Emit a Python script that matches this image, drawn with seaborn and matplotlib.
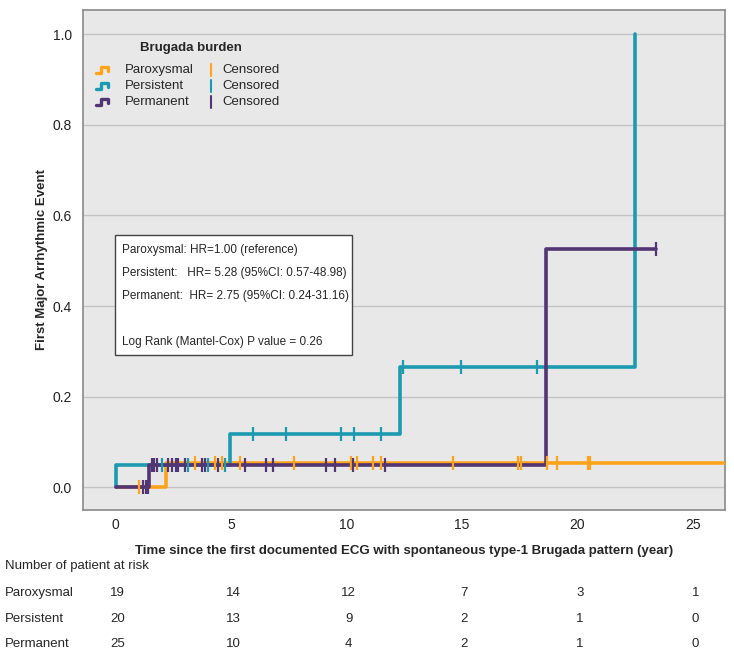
import numpy as np
import pandas as pd
import seaborn as sns
import matplotlib.pyplot as plt
from matplotlib.patches import Rectangle
from matplotlib.lines import Line2D

# step curves (time in years, cumulative event)
parox_t = [0, 2.2, 27.0]
parox_y = [0, 0.054, 0.054]
persis_t = [0, 0, 4.95, 12.3, 22.5]
persis_y = [0, 0.05, 0.118, 0.265, 1.0]
perm_t = [0, 1.46, 18.65, 23.4]
perm_y = [0, 0.05, 0.525, 0.525]

# censored times
parox_cens = [1.03, 3.44, 4.3, 4.6, 5.39, 7.73, 10.19, 10.44, 11.16, 11.49,
              14.62, 17.44, 17.54, 18.7, 19.1, 20.45, 20.55]
persis_cens = [2.03, 3.15, 4.0, 4.74, 5.97, 7.37, 9.75, 10.34, 11.49,
               12.45, 14.95, 18.25]
perm_cens = [1.2, 1.3, 1.4, 1.56, 1.68, 1.81, 2.25, 2.43, 2.6, 2.72, 3.0,
             3.73, 3.87, 4.45, 5.62, 6.5, 6.8, 9.1, 9.5, 10.29, 11.67, 23.4]

groups = ['Paroxysmal', 'Persistent', 'Permanent']
colors = ['#FFA31A', '#1C9AAF', '#523573']

# number at risk table
risk_times = [0, 5, 10, 15, 20, 25]
risk_parox = [19, 14, 12, 7, 3, 1]
risk_persis = [20, 13, 9, 2, 1, 0]
risk_perm = [25, 10, 4, 2, 1, 0]

hr_lines = ['Paroxysmal: HR=1.00 (reference)',
            'Persistent:   HR= 5.28 (95%CI: 0.57-48.98)',
            'Permanent:  HR= 2.75 (95%CI: 0.24-31.16)',
            '',
            'Log Rank (Mantel-Cox) P value = 0.26']

sns.set_style('whitegrid', {'axes.facecolor': '#E8E8E8', 'grid.color': '#C4C4C4',
                            'axes.edgecolor': '#8A8A8A'})
plt.rcParams['font.family'] = ['Liberation Sans', 'DejaVu Sans']

W, H = 734, 659
fig = plt.figure(figsize=(W / 100, H / 100), dpi=100)
ax = fig.add_axes([83 / W, 1 - 510 / H, 642 / W, 500 / H])


def px(x, y):
    return x / W, 1 - y / H


def step_val(ts, ys, t):
    i = np.searchsorted(ts, t, side='right') - 1
    return ys[max(i, 0)]


curves = [(parox_t, parox_y, parox_cens), (persis_t, persis_y, persis_cens),
          (perm_t, perm_y, perm_cens)]
for (ts, ys, cens), g, c in zip(curves, groups, colors):
    d = pd.DataFrame({'t': ts, 'y': ys})
    sns.lineplot(data=d, x='t', y='y', ax=ax, color=c, lw=2.6, sort=False,
                 drawstyle='steps-post', estimator=None, zorder=3)
    cy = [step_val(ts, ys, t) for t in cens]
    ax.plot(cens, cy, ls='none', marker='|', ms=10, mew=1.6, color=c, zorder=4)

ax.set_xlim(-1.41, 26.39)
ax.set_ylim(-0.05, 1.053)
ax.set_xticks(risk_times)
ax.set_yticks([0, 0.2, 0.4, 0.6, 0.8, 1.0])
ax.set_yticklabels(['0.0', '0.2', '0.4', '0.6', '0.8', '1.0'])
ax.grid(axis='x', visible=False)
ax.grid(axis='y', lw=1)
ax.tick_params(length=0, labelsize=10, colors='#222222')
ax.tick_params(axis='y', pad=8)
ax.tick_params(axis='x', pad=6)
ax.set_xlabel('Time since the first documented ECG with spontaneous type-1 Brugada pattern (year)',
              fontsize=9.5, fontweight='bold', labelpad=9)
ax.set_ylabel('First Major Arrhythmic Event', fontsize=9.5, fontweight='bold', labelpad=3)
for s in ax.spines.values():
    s.set_linewidth(1.2)

# legend drawn by hand
fig.text(*px(140, 48), 'Brugada burden', fontsize=9.5, fontweight='bold', va='center')
for i, (g, c) in enumerate(zip(groups, colors)):
    yy = 70 + 16 * i
    sx = np.array([96, 101, 101, 108, 108])
    sy = np.array([yy + 3, yy + 3, yy - 3, yy - 3, yy + 1])
    fig.add_artist(Line2D(sx / W, 1 - sy / H, color=c, lw=2.4))
    fig.text(*px(125, yy), g, fontsize=9.5, va='center')
    fig.add_artist(Line2D([211 / W, 211 / W], [1 - (yy - 6) / H, 1 - (yy + 6) / H], color=c, lw=1.5))
    fig.text(*px(222, yy), 'Censored', fontsize=9.5, va='center')

# hazard ratio box
fig.add_artist(Rectangle(px(115, 355), 237 / W, 120 / H, transform=fig.transFigure,
                         facecolor='white', edgecolor='#444444', lw=1, zorder=5))
for i, line in enumerate(hr_lines):
    fig.text(*px(122, 250 + 23 * i), line, fontsize=8.5, va='center', zorder=6)

# risk table
fig.text(*px(5, 566), 'Number of patient at risk', fontsize=9.5, va='center')
trans = ax.get_xaxis_transform()
for j, (g, vals) in enumerate(zip(groups, [risk_parox, risk_persis, risk_perm])):
    yy = 593 + 25.5 * j
    fig.text(*px(5, yy), g, fontsize=9.5, va='center')
    for t, v in zip(risk_times, vals):
        ax.text(t + 0.1, -(yy - 510) / 500, str(v), transform=trans, ha='center',
                va='center', fontsize=9.5, clip_on=False)

fig.savefig('out.png', dpi=100)
